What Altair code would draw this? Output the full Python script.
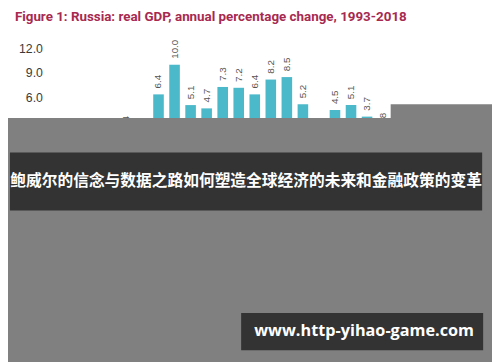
import altair as alt
import pandas as pd

years = [str(y) for y in range(1993, 2019)]
growth = [-8.7, -12.7, -4.1, -3.6, 1.4, -5.3, 6.4, 10.0, 5.1, 4.7, 7.3, 7.2, 6.4,
          8.2, 8.5, 5.2, -7.8, 4.5, 5.1, 3.7, 1.8, 0.7, -2.3, 0.3, 1.6, 2.3]
y_ticks = [0, 3, 6, 9, 12]

title_text = "Figure 1: Russia: real GDP, annual percentage change, 1993-2018"
banner_text = "鲍威尔的信念与数据之路如何塑造全球经济的未来和金融政策的变革"
watermark_text = "www.http-yihao-game.com"

df = pd.DataFrame({"year": years, "value": growth})
df["label"] = df["value"].map(lambda v: f"{v:.1f}")
one = pd.DataFrame({"k": [0]})

x_scale = alt.Scale(paddingInner=0.34, paddingOuter=0.17)
y_scale = alt.Scale(domain=[-15, 12], nice=False)
x_axis = alt.Axis(title=None, labelAngle=-90, ticks=False, domain=False,
                  labelColor="#444", labelFont="Liberation Sans")
y_axis = alt.Axis(title=None, values=y_ticks, format=".1f", grid=False,
                  domain=False, ticks=False, labelPadding=12,
                  labelOverlap=False, labelFontSize=12.5,
                  labelColor="#3a3a3a", labelFont="Liberation Sans")

X = alt.X("year:N", sort=years, scale=x_scale, axis=x_axis)
Y = alt.Y("value:Q", scale=y_scale, axis=y_axis)

base = alt.Chart(df)
bars = base.mark_bar(color="#4cb9cb").encode(x=X, y=Y)
labels_pos = base.transform_filter("datum.value >= 0").mark_text(
    angle=270, align="left", baseline="middle", dx=6, fontSize=10,
    color="#555", font="Liberation Sans"
).encode(x=X, y=Y, text="label:N")
labels_neg = base.transform_filter("datum.value < 0").mark_text(
    angle=270, align="right", baseline="middle", dx=-6, fontSize=10,
    color="#555", font="Liberation Sans"
).encode(x=X, y=Y, text="label:N")

title = alt.Chart(one).mark_text(
    align="left", baseline="alphabetic", fontSize=13.6, fontWeight="bold",
    font="Roboto", color="#a8294f"
).encode(x=alt.value(-40), y=alt.value(-28), text=alt.value(title_text))

gray_main = alt.Chart(one).mark_rect(color="#808080").encode(
    x=alt.value(-60), x2=alt.value(460), y=alt.value(71), y2=alt.value(400))
gray_small = alt.Chart(one).mark_rect(color="#808080").encode(
    x=alt.value(342), x2=alt.value(460), y=alt.value(57), y2=alt.value(72))
banner = alt.Chart(one).mark_rect(color="#333333").encode(
    x=alt.value(-45), x2=alt.value(435), y=alt.value(106), y2=alt.value(165))
banner_t = alt.Chart(one).mark_text(
    align="center", baseline="middle", fontSize=16, fontWeight="bold",
    font="Noto Sans CJK SC", color="white"
).encode(x=alt.value(195), y=alt.value(135.5), text=alt.value(banner_text))
wm_box = alt.Chart(one).mark_rect(color="#333333").encode(
    x=alt.value(190), x2=alt.value(436), y=alt.value(269), y2=alt.value(307))
wm_t = alt.Chart(one).mark_text(
    align="center", baseline="middle", fontSize=16.5, fontWeight="bold",
    font="Open Sans", color="white"
).encode(x=alt.value(315), y=alt.value(288), text=alt.value(watermark_text))

chart = alt.layer(
    bars, labels_pos, labels_neg, title,
    gray_main, gray_small, banner, banner_t, wm_box, wm_t
).properties(
    width=424, height=226,
    background="white",
    autosize=alt.AutoSizeParams(type="none"),
    padding={"left": 47, "top": 38, "right": 21, "bottom": 90},
).configure_view(stroke=None)

chart.save("out.html", embed_options={"renderer": "svg", "actions": False})
